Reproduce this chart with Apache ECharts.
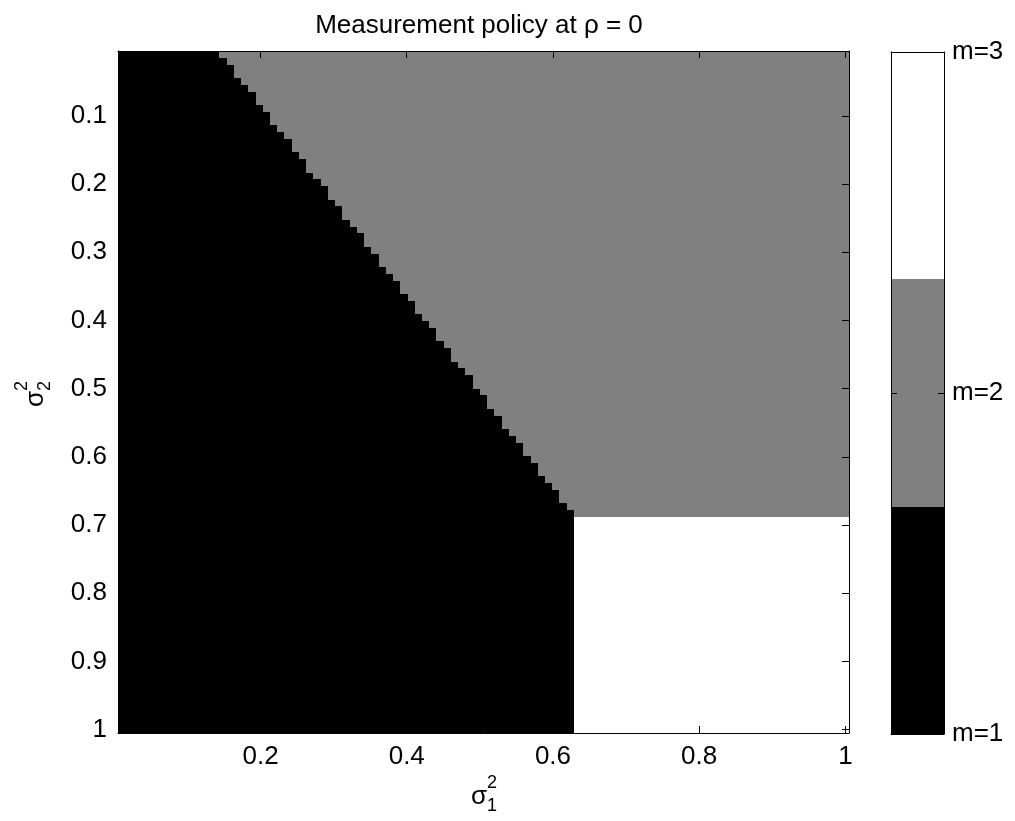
<!DOCTYPE html>
<html>
<head>
<meta charset="utf-8">
<script src="https://cdn.jsdelivr.net/npm/echarts@6.0.0/dist/echarts.min.js"></script>
<style>
  html, body { margin: 0; padding: 0; background: #fff; }
  #chart { width: 1015px; height: 821px; }
</style>
</head>
<body>
<div id="chart"></div>
<script>
// ---- data -------------------------------------------------------------
// sigma1^2 / sigma2^2 grid: 101 x 101 samples from 0.01 to 1
const gridFirst = 0.01;
const gridLast = 1;
const gridCount = 101;

// for sigma2 rows 0..68: first sigma1 column where policy switches m=1 -> m=2
const grayStartCol = [
  14, 15, 16, 16, 17, 18, 19, 19, 20, 21,
  21, 22, 23, 24, 24, 25, 26, 26, 27, 28,
  29, 29, 30, 31, 31, 32, 33, 34, 34, 35,
  36, 36, 37, 38, 39, 39, 40, 41, 41, 42,
  43, 44, 44, 45, 46, 46, 47, 48, 49, 49,
  50, 51, 51, 52, 53, 53, 54, 55, 56, 56,
  57, 58, 58, 59, 60, 61, 61, 62, 63
];
// rows from whiteStartRow on: m=1 left of whiteStartCol, m=3 from it
const whiteStartRow = 69;
const whiteStartCol = 63;

const xTicks = [0.2, 0.4, 0.6, 0.8, 1];
const yTicks = [0.1, 0.2, 0.3, 0.4, 0.5, 0.6, 0.7, 0.8, 0.9, 1];

const levels = [1, 2, 3];
const levelLabels = ['m=1', 'm=2', 'm=3'];
const colorbarEdges = [1, 5 / 3, 7 / 3, 3];

// ---- build cells ------------------------------------------------------
const step = (gridLast - gridFirst) / (gridCount - 1);
const edge = i => gridFirst - step / 2 + i * step;

const cells = [];
for (let r = 0; r < gridCount; r++) {
  for (let c = 0; c < gridCount; c++) {
    let m;
    if (r < whiteStartRow) m = c < grayStartCol[r] ? 1 : 2;
    else m = c < whiteStartCol ? 1 : 3;
    cells.push([gridFirst + c * step, gridFirst + r * step, m, c, r]);
  }
}
const bands = levels.map((l, i) => [colorbarEdges[i], colorbarEdges[i + 1], l]);

// ---- chart ------------------------------------------------------------
const FONT = 'Liberation Sans, Arial, Helvetica, sans-serif';
const COLORS = { 1: '#000000', 2: '#808080', 3: '#ffffff' };
const chart = echarts.init(document.getElementById('chart'), null, { renderer: 'canvas' });

const lineStyle = { color: '#000', width: 1 };
const axisLine = { show: true, onZero: false, lineStyle };
const tickIn = (vals, len) => ({ show: true, inside: true, length: len, customValues: vals, lineStyle });

function renderCell(params, api) {
  const c = api.value(3), r = api.value(4);
  const p0 = api.coord([edge(c), edge(r)]);
  const p1 = api.coord([edge(c + 1), edge(r + 1)]);
  const x0 = Math.round(Math.min(p0[0], p1[0])), x1 = Math.round(Math.max(p0[0], p1[0]));
  const y0 = Math.round(Math.min(p0[1], p1[1])), y1 = Math.round(Math.max(p0[1], p1[1]));
  return {
    type: 'rect',
    shape: { x: x0, y: y0, width: x1 - x0, height: y1 - y0 },
    style: { fill: COLORS[api.value(2)] }
  };
}

function renderBand(params, api) {
  const p0 = api.coord([0, api.value(0)]);
  const p1 = api.coord([1, api.value(1)]);
  const y0 = Math.round(Math.min(p0[1], p1[1])), y1 = Math.round(Math.max(p0[1], p1[1]));
  return {
    type: 'rect',
    shape: { x: Math.round(p0[0]), y: y0, width: Math.round(p1[0] - p0[0]), height: y1 - y0 },
    style: { fill: COLORS[api.value(2)] }
  };
}

const axMin = edge(0), axMax = edge(gridCount);

function subLabel(x, y, rot, sup, sub) {
  const t = (text, dx, dy, size) => ({
    type: 'text', x: dx, y: dy,
    style: {
      text, fill: '#000', fontSize: size, fontFamily: FONT,
      align: dx === 0 ? 'center' : 'left', verticalAlign: 'middle',
      textAlign: dx === 0 ? 'center' : 'left', textVerticalAlign: 'middle'
    }
  });
  return {
    type: 'group', x, y, rotation: rot,
    children: [t('σ', 0, 0, 26), t(sup, 8, -14, 18), t(sub, 8, 9, 18)]
  };
}

chart.setOption({
  backgroundColor: '#fff',
  animation: false,
  title: {
    text: 'Measurement policy at ρ = 0',
    left: 474, top: 8, textAlign: 'center',
    textStyle: { fontFamily: FONT, fontSize: 26, fontWeight: 'normal', color: '#000' }
  },
  grid: [
    { left: 118, top: 51, width: 731, height: 682 },
    { left: 891, top: 52, width: 53, height: 682 }
  ],
  xAxis: [
    {
      gridIndex: 0, type: 'value', position: 'bottom', min: axMin, max: axMax, z: 5,
      axisLine, splitLine: { show: false },
      axisTick: tickIn(xTicks, 7),
      axisLabel: { customValues: xTicks, margin: 11, color: '#000', fontSize: 26, fontFamily: FONT, formatter: v => String(v) }
    },
    {
      gridIndex: 0, type: 'value', position: 'top', min: axMin, max: axMax, z: 5,
      axisLine, splitLine: { show: false },
      axisTick: tickIn(xTicks, 7), axisLabel: { show: false }
    },
    {
      gridIndex: 1, type: 'value', position: 'bottom', min: 0, max: 1, z: 5,
      axisLine, splitLine: { show: false },
      axisTick: { show: false }, axisLabel: { show: false }
    },
    {
      gridIndex: 1, type: 'value', position: 'top', min: 0, max: 1, z: 5,
      axisLine, splitLine: { show: false },
      axisTick: { show: false }, axisLabel: { show: false }
    }
  ],
  yAxis: [
    {
      gridIndex: 0, type: 'value', position: 'left', inverse: true, min: axMin, max: axMax, z: 5,
      axisLine, splitLine: { show: false },
      axisTick: tickIn(yTicks, 7),
      axisLabel: { customValues: yTicks, margin: 11, color: '#000', fontSize: 26, fontFamily: FONT, formatter: v => String(v) }
    },
    {
      gridIndex: 0, type: 'value', position: 'right', inverse: true, min: axMin, max: axMax, z: 5,
      axisLine, splitLine: { show: false },
      axisTick: tickIn(yTicks, 7), axisLabel: { show: false }
    },
    {
      gridIndex: 1, type: 'value', position: 'left', min: 1, max: 3, z: 5,
      axisLine, splitLine: { show: false },
      axisTick: tickIn(levels, 6), axisLabel: { show: false }
    },
    {
      gridIndex: 1, type: 'value', position: 'right', min: 1, max: 3, z: 5,
      axisLine, splitLine: { show: false },
      axisTick: tickIn(levels, 6),
      axisLabel: {
        customValues: levels, margin: 8, color: '#000', fontSize: 26, fontFamily: FONT,
        formatter: v => levelLabels[levels.indexOf(v)]
      }
    }
  ],
  series: [
    {
      type: 'custom', xAxisIndex: 0, yAxisIndex: 0, data: cells,
      renderItem: renderCell, clip: true, silent: true, progressive: 0, z: 1
    },
    {
      type: 'custom', xAxisIndex: 2, yAxisIndex: 2, data: bands,
      renderItem: renderBand, silent: true, z: 1
    }
  ],
  graphic: [
    subLabel(479, 797, 0, '2', '1'),
    subLabel(36, 399, Math.PI / 2, '2', '2')
  ]
});
</script>
</body>
</html>
